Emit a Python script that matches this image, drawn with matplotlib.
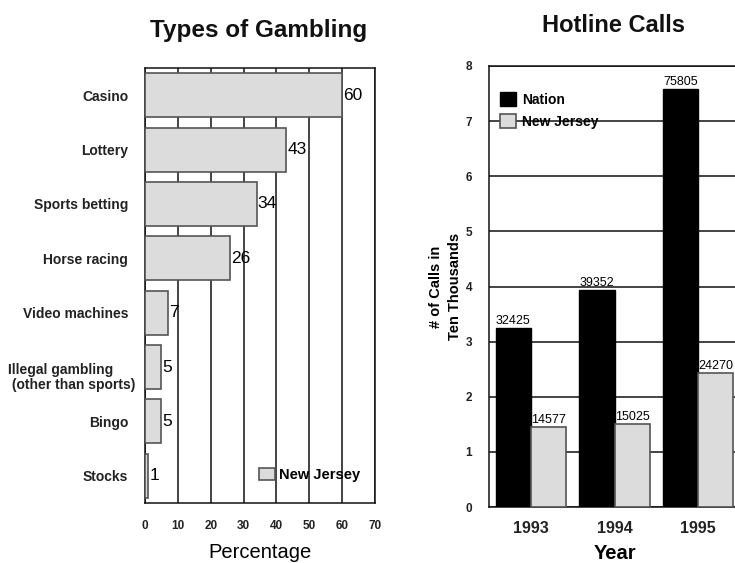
import matplotlib
matplotlib.use("Agg")
import matplotlib.pyplot as plt

plt.rcParams['font.family'] = ['Liberation Sans', 'DejaVu Sans']

# ---- data ----
gamb_types = ["Casino", "Lottery", "Sports betting", "Horse racing", "Video machines",
              "Illegal gambling\n (other than sports)", "Bingo", "Stocks"]
gamb_pct = [60, 43, 34, 26, 7, 5, 5, 1]
pct_ticks = [0, 10, 20, 30, 40, 50, 60, 70]

years = ["1993", "1994", "1995"]
calls_nation = [32425, 39352, 75805]
calls_nj = [14577, 15025, 24270]
calls_ticks = [0, 1, 2, 3, 4, 5, 6, 7, 8]

W, H = 735, 563
fig = plt.figure(figsize=(W / 100, H / 100), dpi=100)

def px_axes(l, t, r, b):
    return fig.add_axes([l / W, 1 - b / H, (r - l) / W, (b - t) / H])

grey = "#dcdcdc"
edge = "#555555"

# ---- left chart ----
ax1 = px_axes(145, 68, 375, 503)
ypos = list(range(len(gamb_types)))
ax1.barh(ypos, gamb_pct, height=0.81, color=grey, edgecolor=edge, linewidth=1.2, zorder=3,
         label="New Jersey")
for y, v in zip(ypos, gamb_pct):
    ax1.text(v + 0.3, y, str(v), va="center", ha="left", fontsize=12.5, zorder=4)
ax1.set_xlim(0, 70)
ax1.set_ylim(len(gamb_types) - 0.5, -0.5)
ax1.set_xticks(pct_ticks)
ax1.set_xticklabels([str(t) for t in pct_ticks], fontsize=8.5, fontweight="bold", color="#222")
ax1.set_yticks(ypos)
# multi-line category label is drawn separately (slightly lowered, left-aligned lines)
ylabels = [t if "\n" not in t else "" for t in gamb_types]
ax1.set_yticklabels(ylabels, fontsize=10, fontweight="bold", color="#222")
for y, t in zip(ypos, gamb_types):
    if "\n" in t:
        ax1.annotate(t, xy=(0, y), xycoords=("axes fraction", "data"),
                     xytext=(-7.2, -7.5), textcoords="offset points",
                     ha="right", va="center", multialignment="left",
                     fontsize=10, fontweight="bold", color="#222", linespacing=1.05)
ax1.tick_params(axis="both", length=0)
ax1.tick_params(axis="x", pad=12)
ax1.tick_params(axis="y", pad=12)
ax1.xaxis.grid(True, color="#111", linewidth=1.1, zorder=1)
ax1.set_axisbelow(True)
for s in ax1.spines.values():
    s.set_color("#111")
    s.set_linewidth(1.1)
ax1.set_xlabel("Percentage", fontsize=14.5, labelpad=8)
ax1.legend(loc="lower right", bbox_to_anchor=(0.962, 0.035), frameon=False,
           prop={"weight": "bold", "size": 10.5}, handlelength=1.1, handleheight=0.85,
           handletextpad=0.3, borderaxespad=0.0)
fig.text(259 / W, 1 - 30 / H, "Types of Gambling", ha="center", va="center",
         fontsize=17.5, fontweight="bold", color="#111")

# ---- right chart ----
ax2 = px_axes(489, 66, 740, 507)
xs = list(range(len(years)))
bw = 0.42
nat = [v / 10000 for v in calls_nation]
nj = [v / 10000 for v in calls_nj]
ax2.bar([x - bw / 2 for x in xs], nat, width=bw, color="black", edgecolor="black",
        linewidth=1.0, zorder=3, label="Nation")
ax2.bar([x + bw / 2 for x in xs], nj, width=bw, color=grey, edgecolor=edge,
        linewidth=1.2, zorder=3, label="New Jersey")
for x, v, raw in zip(xs, nat, calls_nation):
    ax2.text(x - bw / 2, v + 0.02, str(raw), ha="center", va="bottom", fontsize=9, zorder=4)
for x, v, raw in zip(xs, nj, calls_nj):
    ax2.text(x + bw / 2, v + 0.02, str(raw), ha="center", va="bottom", fontsize=9, zorder=4)
ax2.set_xlim(-0.5, 2.5)
ax2.set_ylim(0, 8)
ax2.set_yticks(calls_ticks)
ax2.set_yticklabels([str(t) for t in calls_ticks], fontsize=8.5, fontweight="bold", color="#222")
ax2.set_xticks(xs)
ax2.set_xticklabels(years, fontsize=11.5, fontweight="bold", color="#222")
ax2.tick_params(axis="x", length=0, pad=10)
ax2.tick_params(axis="y", length=0, pad=12)
ax2.yaxis.grid(True, color="#111", linewidth=1.1, zorder=1)
ax2.set_axisbelow(True)
for s in ax2.spines.values():
    s.set_color("#111")
    s.set_linewidth(1.1)
ax2.spines["right"].set_visible(False)
ax2.set_xlabel("Year", fontsize=14.5, fontweight="bold", labelpad=6)
ax2.set_ylabel("# of Calls in\nTen Thousands", fontsize=10.5, fontweight="bold", labelpad=3,
               linespacing=1.4)
ax2.legend(loc="upper left", bbox_to_anchor=(0.0, 0.966), frameon=False,
           prop={"weight": "bold", "size": 10}, handlelength=1.15, handleheight=1.15,
           handletextpad=0.45, labelspacing=0.55, borderaxespad=0.4)
fig.text(613 / W, 1 - 25 / H, "Hotline Calls", ha="center", va="center",
         fontsize=17, fontweight="bold", color="#111")

fig.savefig("out.png", dpi=100)
